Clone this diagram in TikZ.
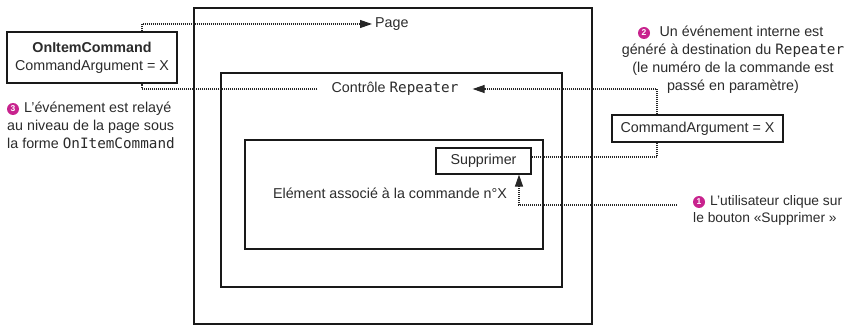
\documentclass[tikz,border=0pt]{standalone}
\usepackage{fontspec}
\setmainfont{Liberation Sans}
\setmonofont[Scale=1.0]{DejaVu Sans Mono}
\usetikzlibrary{arrows.meta}

\definecolor{puceviolet}{HTML}{C8238E}
\definecolor{encre}{HTML}{2B2B2B}

\begin{document}
\begin{tikzpicture}[x=1pt, y=-1pt,
    font=\fontsize{14.3pt}{18pt}\selectfont, text=encre,
    cadre/.style={draw=black!90, line width=1.2pt, inner sep=0pt},
    lien/.style={draw=black!85, line width=1.1pt, dash pattern=on 1.1pt off 0.9pt},
    fleche/.style={-{Triangle[length=12pt, width=8pt]}},
    puce/.style={circle, fill=puceviolet, text=white, inner sep=0pt,
      minimum size=12pt, font=\bfseries\fontsize{8.5pt}{8.5pt}\selectfont}
  ]

    \useasboundingbox (0,0) rectangle (847,326);

    % Nested controls
    \node[cadre, minimum width=398pt, minimum height=316pt] (page) at (393,166) {};
    \node[cadre, minimum width=341pt, minimum height=214pt] (repeater) at (391.5,180) {};
    \node[cadre, minimum width=298pt, minimum height=109pt] (element) at (394,194.5) {};
    \node[cadre, minimum width=95pt, minimum height=26pt] (suppr) at (483.5,161) {Supprimer};

    % Labels inside
    \node[anchor=west, inner sep=3pt] (pagelbl) at (372,24) {Page};
    \node[inner xsep=14pt, inner ysep=3pt] (replbl) at (395,89) {Contrôle \texttt{Repeater}};
    \node (elemlbl) at (390,193) {Elément associé à la commande n°X};

    % Event boxes
    \node[cadre, align=center, minimum width=170pt, minimum height=51pt] (oic) at (92,57.5)
    {\textbf{OnItemCommand}\\CommandArgument = X};
    \node[cadre, minimum width=171pt, minimum height=27pt] (arg) at (697.5,128.5)
    {CommandArgument = X};

    % Numbered notes
    \node[puce] (p1) at (699,202) {1};
    \node[anchor=north west, align=left, inner sep=0pt,
      font=\fontsize{13.8pt}{17pt}\selectfont] (note1) at (693,195)
    {\hspace*{17pt}L’utilisateur clique sur\\le bouton «Supprimer »};

    \node[puce] (p2) at (644,33) {2};
    \node[align=center, inner sep=0pt] (note2) at (733,60)
    {\hspace*{17pt}Un événement interne est\\généré à destination du \texttt{Repeater}\\
      (le numéro de la commande est\\passé en paramètre)};

    \node[puce] (p3) at (13,109) {3};
    \node[anchor=north west, align=left, inner sep=0pt] (note3) at (7,102)
    {\hspace*{17pt}L’événement est relayé\\au niveau de la page sous\\la forme \texttt{OnItemCommand}};

    % Event path
    \coordinate (clic) at (677,205);
    \draw[lien, fleche] (clic) -| ([xshift=35.5pt]suppr.south);
    \draw[lien] ([yshift=4pt]suppr.east) -| ([xshift=-40.5pt]arg.south);
    \draw[lien, fleche] ([xshift=-40.5pt]arg.north) |- (replbl.east);
    \draw[lien] (replbl.west) -| ([xshift=50pt]oic.south);
    \draw[lien, fleche] ([xshift=50pt]oic.north) |- (pagelbl.west);

  \end{tikzpicture}
\end{document}
